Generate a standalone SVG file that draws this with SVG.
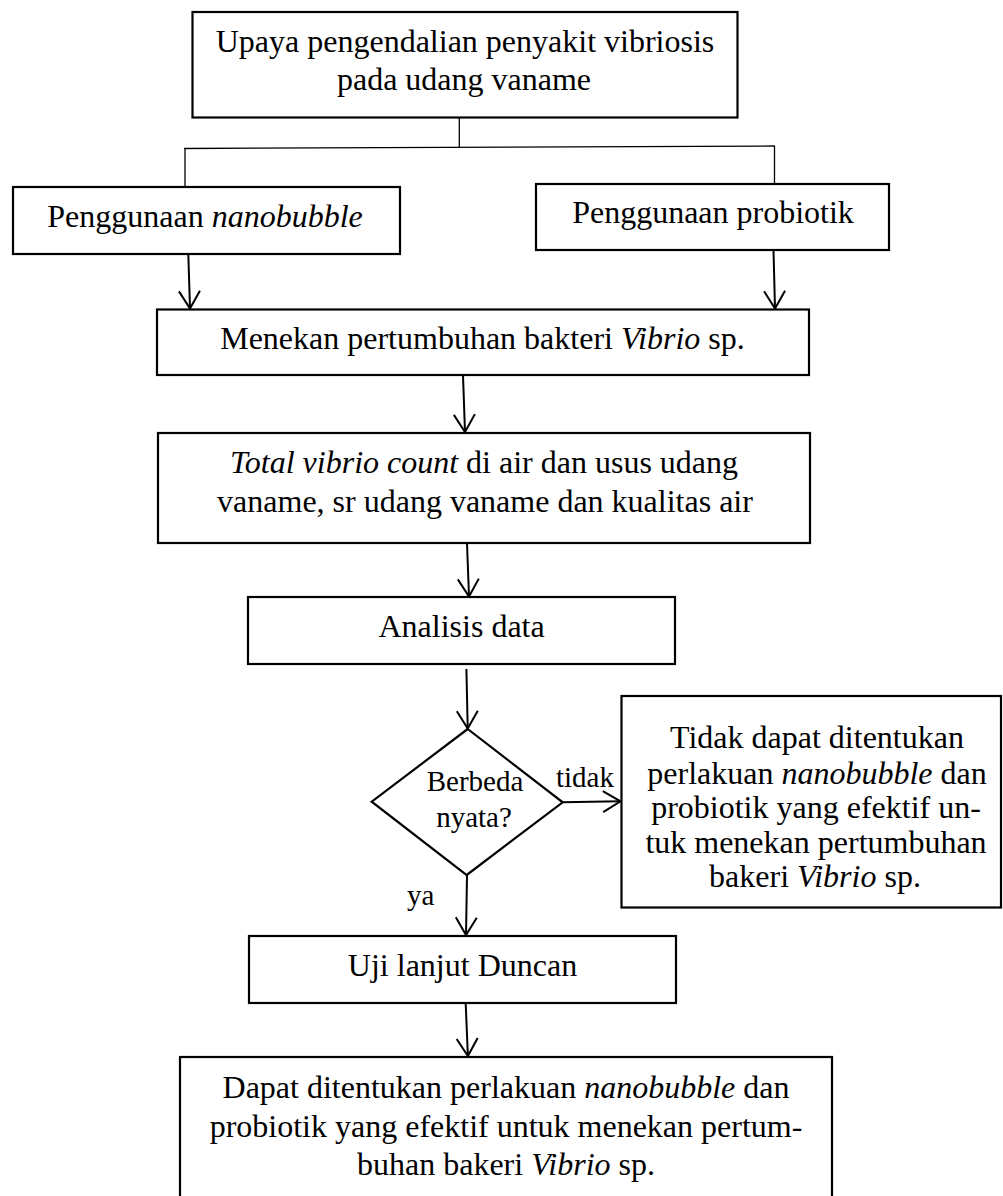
<svg xmlns="http://www.w3.org/2000/svg" width="1003" height="1196" viewBox="0 0 1003 1196">
<style>
.box{fill:#fff;stroke:#000;stroke-width:2.2}
.t{font-family:"Liberation Serif","Times New Roman",serif;font-size:32px;fill:#000;text-anchor:middle}
.s{font-family:"Liberation Serif","Times New Roman",serif;font-size:29px;fill:#000}
.i{font-style:italic}
.ln{fill:none;stroke:#000;stroke-width:1.3}
.ar{fill:none;stroke:#000;stroke-width:2;marker-end:url(#ah)}
</style>
<defs>
<marker id="ah" markerUnits="userSpaceOnUse" markerWidth="22" markerHeight="24" refX="19" refY="12" orient="auto" viewBox="0 0 22 24">
<path d="M1.5,1.5 L19,12 L1.5,22.5" fill="none" stroke="#000" stroke-width="2"/>
</marker>
</defs>
<rect width="1003" height="1196" fill="#fff"/>
<g id="connectors">
<path class="ln" d="M459.3,118 V147.5"/>
<path class="ln" d="M184,148.5 L775,146"/>
<path class="ln" d="M185,148.5 V187"/>
<path class="ln" d="M774.5,146 V185"/>
<path class="ar" d="M188.3,254.5 L190,308.5"/>
<path class="ar" d="M773.5,250.5 L775,308.5"/>
<path class="ar" d="M463,375.5 L465,432"/>
<path class="ar" d="M467,543.5 L469,596.5"/>
<path class="ar" d="M466.4,669 L467.7,728.5"/>
<path class="ar" d="M563,802.3 L620.5,801.3"/>
<path class="ar" d="M467,875 L466,935"/>
<path class="ar" d="M465.5,999 L467.9,1056"/>
<text class="s" x="556" y="787">tidak</text>
<text class="s" x="407" y="905">ya</text>
</g>
<g id="n_top">
<rect class="box" x="192.5" y="12" width="545" height="105.5"/>
<text class="t" x="465" y="52">Upaya pengendalian penyakit vibriosis</text>
<text class="t" x="464" y="89.5">pada udang vaname</text>
</g>
<g id="n_nano">
<rect class="box" x="13" y="187" width="387" height="67"/>
<text class="t" x="205" y="227">Penggunaan <tspan class="i">nanobubble</tspan></text>
</g>
<g id="n_pro">
<rect class="box" x="536" y="184" width="353" height="66"/>
<text class="t" x="713" y="222.5">Penggunaan probiotik</text>
</g>
<g id="n_menekan">
<rect class="box" x="157" y="309.5" width="652" height="65.5"/>
<text class="t" x="482.5" y="349">Menekan pertumbuhan bakteri <tspan class="i">Vibrio</tspan> sp.</text>
</g>
<g id="n_total">
<rect class="box" x="158" y="433" width="652" height="110"/>
<text class="t" x="484" y="473"><tspan class="i">Total vibrio count</tspan> di air dan usus udang</text>
<text class="t" x="485" y="512">vaname, sr udang vaname dan kualitas air</text>
</g>
<g id="n_analisis">
<rect class="box" x="248" y="597" width="427" height="67"/>
<text class="t" x="461.6" y="637">Analisis data</text>
</g>
<g id="n_decision">
<polygon class="box" points="467.7,729 562.7,802.3 466.7,875 371.7,801.7"/>
<text class="s" x="475" y="791" text-anchor="middle">Berbeda</text>
<text class="s" x="474" y="827" text-anchor="middle">nyata?</text>
</g>
<g id="n_tidak">
<rect class="box" x="621.5" y="696" width="379.5" height="211.5"/>
<text class="t" x="817" y="748.3">Tidak dapat ditentukan</text>
<text class="t" x="817" y="783.5">perlakuan <tspan class="i">nanobubble</tspan> dan</text>
<text class="t" x="816" y="818.3">probiotik yang efektif un-</text>
<text class="t" x="816" y="853">tuk menekan pertumbuhan</text>
<text class="t" x="815" y="887.3">bakeri <tspan class="i">Vibrio</tspan> sp.</text>
</g>
<g id="n_uji">
<rect class="box" x="249" y="936" width="427" height="67"/>
<text class="t" x="462.5" y="976">Uji lanjut Duncan</text>
</g>
<g id="n_dapat">
<rect class="box" x="180" y="1057" width="652" height="160"/>
<text class="t" x="506" y="1097.5">Dapat ditentukan perlakuan <tspan class="i">nanobubble</tspan> dan</text>
<text class="t" x="506" y="1137">probiotik yang efektif untuk menekan pertum-</text>
<text class="t" x="506" y="1175">buhan bakeri <tspan class="i">Vibrio</tspan> sp.</text>
</g>
</svg>
